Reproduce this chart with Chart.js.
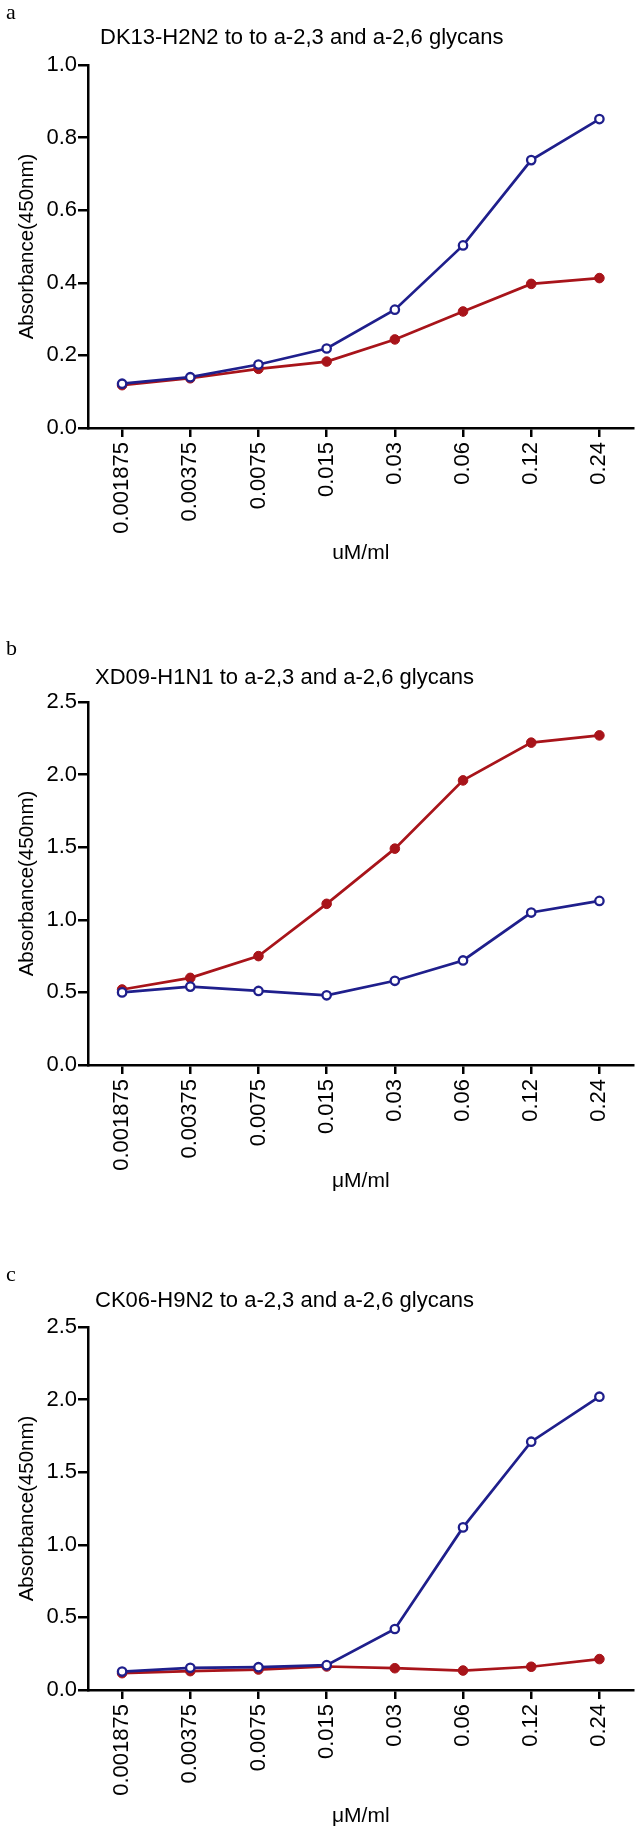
<!DOCTYPE html>
<html lang="en">
<head>
<meta charset="UTF-8">
<title>Glycan binding</title>
<script src="https://cdn.jsdelivr.net/npm/chart.js"></script>
<style>
    body { margin: 0; background: #fff; }
    .panel { position: absolute; left: 0; }
</style>
</head>
<body>
<canvas id="panelA" class="panel" width="640" height="637" style="top:0"></canvas>
<canvas id="panelB" class="panel" width="640" height="625" style="top:637px"></canvas>
<canvas id="panelC" class="panel" width="640" height="569" style="top:1262px"></canvas>
<script>
// concentrations (x axis categories)
var concentrations = ['0.001875', '0.00375', '0.0075', '0.015', '0.03', '0.06', '0.12', '0.24'];

// DK13-H2N2
var dk13Alpha23 = [0.122, 0.140, 0.175, 0.219, 0.326, 0.503, 0.738, 0.851];
var dk13Alpha26 = [0.118, 0.137, 0.163, 0.183, 0.244, 0.321, 0.397, 0.413];

// XD09-H1N1
var xd09Alpha23 = [0.50, 0.54, 0.51, 0.48, 0.58, 0.72, 1.05, 1.13];
var xd09Alpha26 = [0.52, 0.60, 0.75, 1.11, 1.49, 1.96, 2.22, 2.27];

// CK06-H9N2
var ck06Alpha23 = [0.127, 0.153, 0.157, 0.171, 0.42, 1.12, 1.71, 2.02];
var ck06Alpha26 = [0.116, 0.130, 0.141, 0.162, 0.150, 0.134, 0.160, 0.213];

var BLUE = '#1f1f8c';
var RED = '#a8141a';
var SANS = '"Liberation Sans", Arial, sans-serif';

// panel letter + title drawn at fixed spots like the original figure
var panelText = {
    id: 'panelText',
    afterDraw: function (chart, args, o) {
        var ctx = chart.ctx;
        ctx.save();
        ctx.fillStyle = '#000';
        ctx.textBaseline = 'middle';
        ctx.textAlign = 'left';
        ctx.font = '22px "Liberation Serif", serif';
        ctx.fillText(o.letter, 6, o.letterY);
        ctx.font = '22px ' + SANS;
        ctx.fillText(o.title, o.titleX, o.titleY);
        ctx.restore();
    }
};

function makePanel(id, p) {
    var canvas = document.getElementById(id);
    var H = canvas.height;
    var axisBottom = 428;
    return new Chart(canvas.getContext('2d'), {
        type: 'line',
        data: {
            labels: concentrations,
            datasets: [{
                label: 'a-2,3',
                data: p.alpha23,
                borderColor: BLUE,
                backgroundColor: '#fff',
                pointBackgroundColor: '#fff',
                pointBorderColor: BLUE,
                pointRadius: 4.2,
                pointBorderWidth: 2.3,
                borderWidth: 2.7,
                tension: 0
            }, {
                label: 'a-2,6',
                data: p.alpha26,
                borderColor: RED,
                backgroundColor: RED,
                pointBackgroundColor: RED,
                pointBorderColor: RED,
                pointRadius: 4.8,
                pointBorderWidth: 1,
                borderWidth: 2.7,
                tension: 0
            }]
        },
        options: {
            responsive: false,
            animation: false,
            layout: { padding: { top: 65, right: 6, left: 0, bottom: 0 } },
            plugins: {
                legend: { display: false },
                title: { display: false },
                tooltip: { enabled: false },
                panelText: { letter: p.letter, letterY: p.letterY, title: p.title, titleX: p.titleX, titleY: p.titleY }
            },
            scales: {
                x: {
                    type: 'category',
                    offset: true,
                    grid: { offset: false, drawOnChartArea: false, drawTicks: true, tickLength: 9, color: '#000', lineWidth: 2.5 },
                    border: { display: true, color: '#000', width: 2.5 },
                    ticks: { color: '#000', font: { family: SANS, size: 22 }, minRotation: 90, maxRotation: 90, padding: 5, autoSkip: false },
                    title: {
                        display: true, text: p.xTitle, color: '#000',
                        font: { family: SANS, size: 21 },
                        padding: { top: 0, bottom: H - axisBottom - p.xTitleGap - 12.6 }
                    },
                    afterFit: function (s) { s.height = H - axisBottom; }
                },
                y: {
                    min: 0,
                    max: p.yMax,
                    grid: { drawOnChartArea: false, drawTicks: true, tickLength: 10, color: '#000', lineWidth: 2.5 },
                    border: { display: true, color: '#000', width: 2.5 },
                    ticks: {
                        stepSize: p.yStep, color: '#000', padding: 1,
                        font: { family: SANS, size: 22 },
                        callback: function (v) { return v.toFixed(1); }
                    },
                    title: {
                        display: true, text: 'Absorbance(450nm)', color: '#000',
                        font: { family: SANS, size: 20.5 },
                        padding: { top: 15, bottom: 0 }
                    },
                    afterFit: function (s) { s.width = 88; }
                }
            }
        },
        plugins: [panelText]
    });
}

makePanel('panelA', {
    letter: 'a', letterY: 13,
    title: 'DK13-H2N2 to to a-2,3 and a-2,6 glycans', titleX: 100, titleY: 38,
    alpha23: dk13Alpha23, alpha26: dk13Alpha26,
    yMax: 1.0, yStep: 0.2, xTitle: 'uM/ml', xTitleGap: 125
});
makePanel('panelB', {
    letter: 'b', letterY: 12,
    title: 'XD09-H1N1 to a-2,3 and a-2,6 glycans', titleX: 95, titleY: 41,
    alpha23: xd09Alpha23, alpha26: xd09Alpha26,
    yMax: 2.5, yStep: 0.5, xTitle: 'μM/ml', xTitleGap: 116
});
makePanel('panelC', {
    letter: 'c', letterY: 13,
    title: 'CK06-H9N2 to a-2,3 and a-2,6 glycans', titleX: 95, titleY: 39,
    alpha23: ck06Alpha23, alpha26: ck06Alpha26,
    yMax: 2.5, yStep: 0.5, xTitle: 'μM/ml', xTitleGap: 126
});
</script>
</body>
</html>
